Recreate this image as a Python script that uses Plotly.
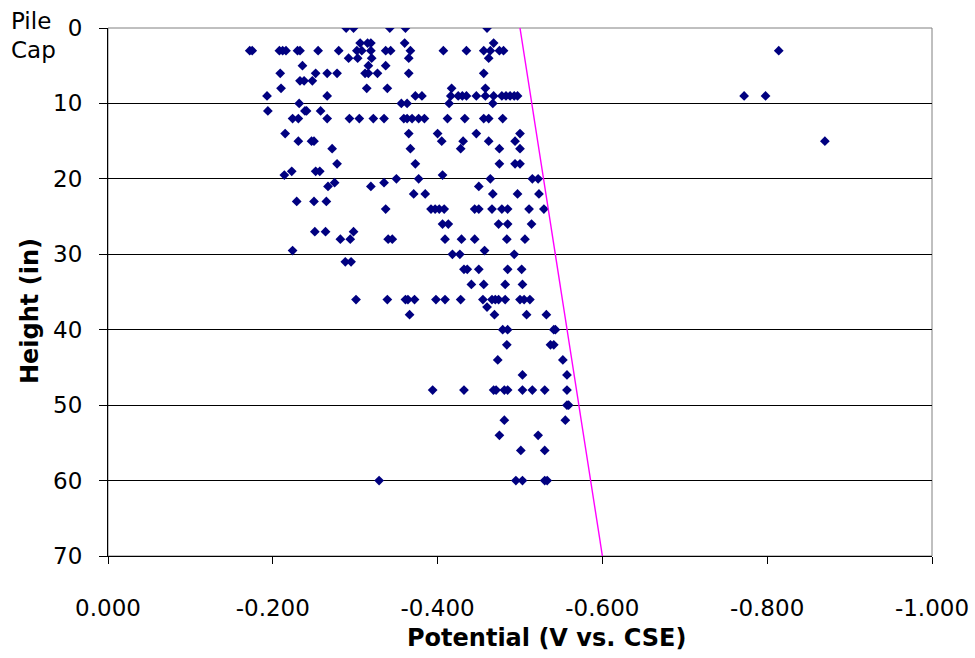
import plotly.graph_objects as go

# Half-cell potential readings grouped by height above the pile cap (in)
row_heights = [0, 2, 3, 4, 5, 6, 7, 8, 9, 10, 11, 12, 14, 15, 16, 18, 19, 19.5,
               20, 20.5, 21, 22, 23, 24, 26, 27, 28, 29.5, 30, 31, 32, 34, 36,
               37, 38, 40, 42, 44, 46, 48, 50, 52, 54, 56, 60]

row_potentials = [
    [-0.289, -0.298, -0.342, -0.361, -0.460],
    [-0.306, -0.315, -0.319, -0.360, -0.468],
    [-0.172, -0.175, -0.208, -0.212, -0.216, -0.230, -0.233, -0.255, -0.280,
     -0.302, -0.308, -0.319, -0.337, -0.343, -0.367, -0.407, -0.435, -0.456,
     -0.464, -0.475, -0.480, -0.814],
    [-0.292, -0.303, -0.320, -0.365, -0.462],
    [-0.236, -0.316, -0.337],
    [-0.209, -0.252, -0.266, -0.278, -0.312, -0.316, -0.327, -0.365, -0.456],
    [-0.233, -0.238, -0.248],
    [-0.210, -0.314, -0.339, -0.417, -0.458],
    [-0.193, -0.266, -0.373, -0.381, -0.416, -0.425, -0.430, -0.435, -0.447,
     -0.458, -0.468, -0.478, -0.483, -0.488, -0.493, -0.497, -0.772, -0.798],
    [-0.232, -0.356, -0.363, -0.414, -0.467],
    [-0.194, -0.239, -0.241, -0.258],
    [-0.224, -0.231, -0.266, -0.293, -0.305, -0.322, -0.335, -0.359, -0.363,
     -0.369, -0.377, -0.384, -0.412, -0.433, -0.456, -0.462, -0.479],
    [-0.215, -0.365, -0.400, -0.447, -0.500],
    [-0.231, -0.247, -0.250, -0.405, -0.431, -0.462, -0.494, -0.870],
    [-0.272, -0.367, -0.428, -0.475, -0.500],
    [-0.278, -0.373, -0.475, -0.494, -0.500],
    [-0.223, -0.252, -0.257],
    [-0.214, -0.406],
    [-0.350, -0.377, -0.464, -0.515, -0.522],
    [-0.275, -0.335],
    [-0.267, -0.319, -0.450],
    [-0.371, -0.385, -0.467, -0.497, -0.523],
    [-0.229, -0.250, -0.265],
    [-0.337, -0.392, -0.397, -0.402, -0.408, -0.445, -0.450, -0.466, -0.478,
     -0.485, -0.511, -0.529],
    [-0.406, -0.413, -0.474, -0.485, -0.514],
    [-0.251, -0.264, -0.298],
    [-0.282, -0.294, -0.340, -0.345, -0.409, -0.429, -0.445, -0.484, -0.506],
    [-0.224, -0.457],
    [-0.418, -0.427, -0.493],
    [-0.288, -0.295],
    [-0.432, -0.436, -0.450, -0.485, -0.502],
    [-0.441, -0.456, -0.482, -0.503],
    [-0.301, -0.339, -0.361, -0.364, -0.372, -0.398, -0.409, -0.428, -0.455,
     -0.466, -0.470, -0.474, -0.482, -0.500, -0.505, -0.512],
    [-0.460],
    [-0.366, -0.469, -0.508, -0.532],
    [-0.479, -0.485, -0.541, -0.543],
    [-0.484, -0.537, -0.541],
    [-0.473, -0.552],
    [-0.503, -0.557],
    [-0.394, -0.432, -0.468, -0.471, -0.481, -0.485, -0.503, -0.515, -0.530,
     -0.557],
    [-0.557, -0.559],
    [-0.481, -0.555],
    [-0.475, -0.522],
    [-0.501, -0.530],
    [-0.329, -0.495, -0.503, -0.530, -0.533],
]

# Reference line for the potential threshold
limit_potential = [-0.500, -0.600]
limit_height = [0, 70]

x_tick_values = [0, -0.2, -0.4, -0.6, -0.8, -1.0]
x_tick_labels = ["0.000", "-0.200", "-0.400", "-0.600", "-0.800", "-1.000"]
y_tick_values = [0, 10, 20, 30, 40, 50, 60, 70]

heights = []
potentials = []
for h, vals in zip(row_heights, row_potentials):
    for v in vals:
        heights.append(h)
        potentials.append(v)

FONT = "DejaVu Sans"
W, H = 975, 658
L, R, T, B = 108, 43, 28, 102
PW, PH = W - L - R, H - T - B


def px_to_paper_x(px):
    return (px - L) / PW


def py_to_paper_y(py):
    return (H - B - py) / PH


fig = go.Figure()
fig.add_trace(go.Scatter(
    x=potentials, y=heights, mode="markers",
    marker=dict(symbol="diamond", size=7.5, color="#000080", line=dict(width=0)),
    hoverinfo="x+y", showlegend=False,
))
fig.add_trace(go.Scatter(
    x=limit_potential, y=limit_height, mode="lines",
    line=dict(color="#FF00FF", width=1.4),
    hoverinfo="skip", showlegend=False,
))

fig.update_layout(
    width=W, height=H, autosize=False,
    margin=dict(l=L, r=R, t=T, b=B, pad=0, autoexpand=False),
    paper_bgcolor="white", plot_bgcolor="white",
    font=dict(family=FONT, size=23, color="black"),
    xaxis=dict(
        range=[0, -1.0], tickvals=x_tick_values, ticktext=x_tick_labels,
        showgrid=False, zeroline=False, showline=True, linecolor="black",
        linewidth=1, ticks="outside", ticklen=7, tickcolor="black",
        tickfont=dict(family=FONT, size=23), ticklabelstandoff=24,
        automargin=False,
    ),
    yaxis=dict(
        range=[70, 0], tickvals=y_tick_values,
        showgrid=True, gridcolor="black", gridwidth=1,
        zeroline=False, showline=True, linecolor="black", linewidth=1,
        ticks="outside", ticklen=8, tickcolor="black",
        tickfont=dict(family=FONT, size=23), ticklabelstandoff=12,
        automargin=False,
    ),
    shapes=[dict(
        type="rect", xref="paper", yref="paper", x0=0, x1=1, y0=0, y1=1,
        line=dict(color="#808080", width=1), fillcolor="rgba(0,0,0,0)",
        layer="between",
    )],
    annotations=[
        dict(text="<b>Potential (V vs. CSE)</b>", xref="paper", yref="paper",
             x=px_to_paper_x(546), y=py_to_paper_y(638),
             xanchor="center", yanchor="middle", showarrow=False,
             font=dict(family=FONT, size=24)),
        dict(text="<b>Height (in)</b>", xref="paper", yref="paper",
             x=px_to_paper_x(30), y=py_to_paper_y(311), textangle=-90,
             xanchor="center", yanchor="middle", showarrow=False,
             font=dict(family=FONT, size=24)),
        dict(text="Pile", xref="paper", yref="paper",
             x=px_to_paper_x(9), y=py_to_paper_y(21),
             xanchor="left", yanchor="middle", showarrow=False,
             font=dict(family=FONT, size=23)),
        dict(text="Cap", xref="paper", yref="paper",
             x=px_to_paper_x(9), y=py_to_paper_y(50),
             xanchor="left", yanchor="middle", showarrow=False,
             font=dict(family=FONT, size=23)),
    ],
)

fig.write_html("out.html")
